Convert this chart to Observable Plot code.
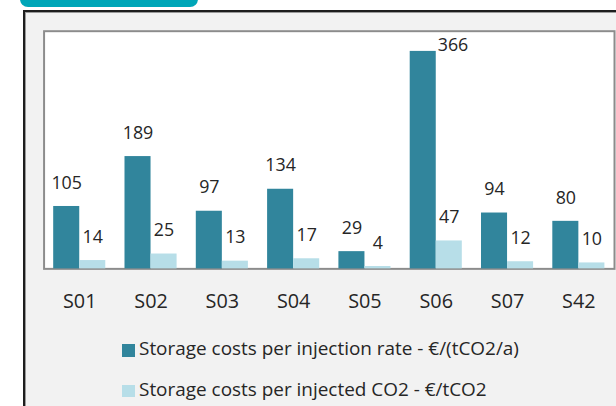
<!DOCTYPE html>
<html>
<head>
<meta charset="utf-8">
<script src="https://cdn.jsdelivr.net/npm/d3@7"></script>
<script src="https://cdn.jsdelivr.net/npm/@observablehq/plot@0.6"></script>
<style>
  html, body { margin: 0; padding: 0; background: #ffffff; }
  #wrap { position: relative; width: 616px; height: 406px; overflow: hidden; font-family: "Open Sans", sans-serif; color: #262626; }
  #tab { position: absolute; left: 20px; top: -8px; width: 178px; height: 15px; background: #00A6B8; border-radius: 0 0 8px 8px; }
  #box { position: absolute; left: 23px; top: 10px; width: 700px; height: 500px; background: #F2F2F2; border-left: 2px solid #1e1e1e; border-top: 2px solid #1e1e1e; box-shadow: inset 1px 1px 0 #9a9a9a; }
  #chart { position: absolute; left: 0; top: 0; }
  .leg { position: absolute; font-size: 18.2px; line-height: 24px; white-space: nowrap; color: #262626; }
  .sw { position: absolute; width: 12.5px; height: 12.5px; }
</style>
</head>
<body>
<div id="wrap">
  <div id="tab"></div>
  <div id="box"></div>
  <div id="chart"></div>
</div>
<script>
// ---- data ----
const stations = ["S01", "S02", "S03", "S04", "S05", "S06", "S07", "S42"];
const perInjectionRate = [105, 189, 97, 134, 29, 366, 94, 80];   // €/(tCO2/a)
const perInjectedCO2   = [14, 25, 13, 17, 4, 47, 12, 10];         // €/tCO2
const seriesNames = [
  "Storage costs per injection rate - €/(tCO2/a)",
  "Storage costs per injected CO2 - €/tCO2"
];
const seriesColors = ["#31859C", "#B7DEE8"];
const yMax = 400;

// ---- table built from arrays ----
const rows = [];
stations.forEach((s, i) => {
  rows.push({station: s, series: seriesNames[0], value: perInjectionRate[i], k: 0});
  rows.push({station: s, series: seriesNames[1], value: perInjectedCO2[i], k: 1});
});

const barW = 26.3;       // px width of each bar
const half = 36;         // half band (72px step)
const gap = half - barW; // outer inset
const overflows = d => d.value > yMax * 0.85;

const dark = rows.filter(d => d.k === 0);
const light = rows.filter(d => d.k === 1);

const chart = Plot.plot({
  width: 622,
  height: 321,
  marginLeft: 44,
  marginRight: 2,
  marginTop: 31,
  marginBottom: 50,
  style: {fontFamily: "Open Sans, sans-serif", fontSize: "20px", color: "#262626", background: "transparent", overflow: "visible"},
  x: {domain: stations, padding: 0, tickSize: 0, tickPadding: 25, label: null},
  y: {domain: [0, yMax], axis: null},
  color: {domain: seriesNames, range: seriesColors},
  marks: [
    Plot.frame({fill: "white", stroke: "#8c8c8c", strokeWidth: 2}),
    Plot.barY(dark, {x: "station", y: "value", fill: "series", insetLeft: gap, insetRight: half}),
    Plot.barY(light, {x: "station", y: "value", fill: "series", insetLeft: half, insetRight: gap}),
    Plot.text(dark.filter(d => !overflows(d)), {x: "station", y: "value", text: d => String(d.value), dx: -barW / 2, dy: -18, lineAnchor: "bottom", fontSize: 18, fill: "#262626"}),
    Plot.text(dark.filter(overflows), {x: "station", y: "value", text: d => String(d.value), dx: 1.5, dy: 0, textAnchor: "start", lineAnchor: "bottom", fontSize: 18, fill: "#262626"}),
    Plot.text(light, {x: "station", y: "value", text: d => String(d.value), dx: barW / 2, dy: -18, lineAnchor: "bottom", fontSize: 18, fill: "#262626"})
  ]
});
document.getElementById("chart").appendChild(chart);

// ---- legend ----
const wrap = document.getElementById("wrap");
const legTops = [336.6, 377.4];
const texts = [];
seriesNames.forEach((name, i) => {
  const sw = document.createElement("div");
  sw.className = "sw";
  sw.style.left = "122px";
  sw.style.top = (legTops[i] + 7.4) + "px";
  sw.style.background = seriesColors[i];
  wrap.appendChild(sw);
  const t = document.createElement("div");
  t.className = "leg";
  t.style.left = "139px";
  t.style.top = legTops[i] + "px";
  t.textContent = name;
  wrap.appendChild(t);
  texts.push(t);
});
// fit first legend line to the reference span (about 380px wide, 139 → 519)
const w0 = texts[0].getBoundingClientRect().width;
if (w0 > 0) {
  const fs = Math.max(16, Math.min(21, 18.2 * 380 / w0));
  texts.forEach((t, i) => {
    t.style.fontSize = fs + "px";
    const base = legTops[i] + (24 - 1.362 * 18.2) / 2 + 1.069 * 18.2;
    t.style.top = (base - ((24 - 1.362 * fs) / 2 + 1.069 * fs)) + "px";
  });
}
</script>
</body>
</html>
